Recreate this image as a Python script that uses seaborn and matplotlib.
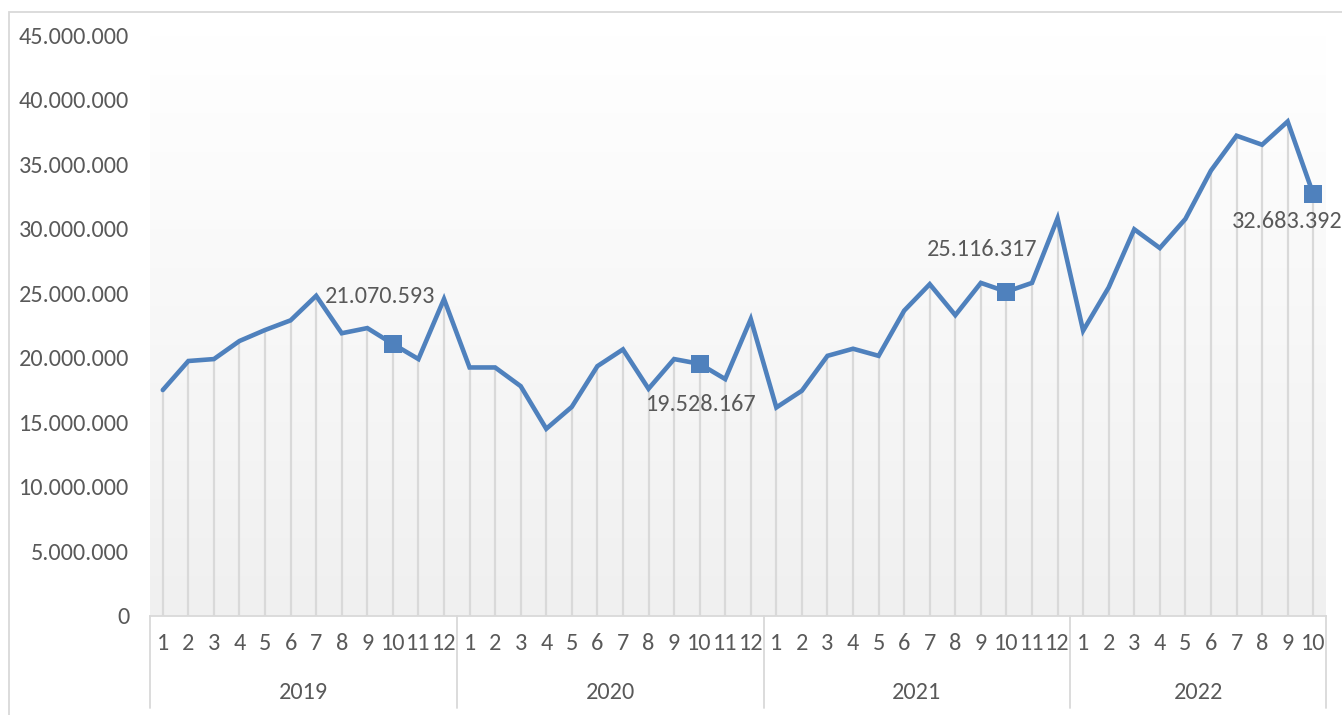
import numpy as np
import pandas as pd
import matplotlib
matplotlib.use("Agg")
import matplotlib.pyplot as plt
import matplotlib.transforms as mtransforms
from matplotlib.patches import Rectangle
from matplotlib.ticker import FuncFormatter, MultipleLocator
from matplotlib.colors import LinearSegmentedColormap
from matplotlib import font_manager
import seaborn as sns

# ---- data ----
years = ["2019", "2020", "2021", "2022"]
months_per_year = [12, 12, 12, 10]
values_2019 = [17.5, 19.75, 19.9, 21.3, 22.15, 22.9, 24.8, 21.9, 22.3, 21.070593, 19.9, 24.55]
values_2020 = [19.25, 19.25, 17.8, 14.5, 16.2, 19.35, 20.65, 17.6, 19.9, 19.528167, 18.35, 23.0]
values_2021 = [16.15, 17.45, 20.15, 20.7, 20.15, 23.65, 25.7, 23.3, 25.8, 25.116317, 25.8, 30.8]
values_2022 = [22.1, 25.45, 29.95, 28.5, 30.75, 34.5, 37.2, 36.5, 38.3, 32.683392]
labeled_month = 10
label_texts = ["21.070.593", "19.528.167", "25.116.317", "32.683.392"]

series = [values_2019, values_2020, values_2021, values_2022]
rows = []
for y, vals in zip(years, series):
    for m, v in enumerate(vals, start=1):
        rows.append({"year": y, "month": m, "value": v * 1e6})
df = pd.DataFrame(rows)
df["idx"] = np.arange(len(df))

# ---- style ----
sns.set_theme(style="white")
avail = {f.name for f in font_manager.fontManager.ttflist}
fam = [f for f in ["Carlito", "Lato", "Open Sans", "DejaVu Sans"] if f in avail]
plt.rcParams["font.family"] = fam
TXT = "#595959"
BLUE = "#4f81bd"
GRID = "#d9d9d9"
FS = 17.5

fig = plt.figure(figsize=(13.42, 7.15), dpi=100)
W, H = 1342, 715
ax = fig.add_axes([150 / W, (H - 616) / H, (1326 - 150) / W, (616 - 35) / H])

n = len(df)
ax.set_xlim(-0.5, n - 0.5)
ax.set_ylim(0, 45e6)

# gradient background
grad = np.linspace(0.0, 1.0, 256).reshape(-1, 1)
cmap = LinearSegmentedColormap.from_list("bg", ["#f0f0f0", "#ffffff"])
ax.imshow(grad, aspect="auto", cmap=cmap, extent=(-0.5, n - 0.5, 0, 45e6),
          origin="lower", zorder=0)

# drop lines
ax.vlines(df["idx"], 0, df["value"], color=GRID, lw=1.6, zorder=1)

# main line
sns.lineplot(data=df, x="idx", y="value", ax=ax, color=BLUE, lw=3.3, zorder=3,
             solid_joinstyle="miter")

# markers and labels
lab = df[df["month"] == labeled_month].reset_index(drop=True)
ax.scatter(lab["idx"], lab["value"], marker="s", s=160, color=BLUE, zorder=4, linewidths=0)
offsets_px = [(-13, 47), (2, -41), (-24, 42), (-26, -27)]
for (i, r), t, (dx, dy) in zip(lab.iterrows(), label_texts, offsets_px):
    ax.annotate(t, (r["idx"], r["value"]), xytext=(dx * 0.72, dy * 0.72),
                textcoords="offset points", ha="center", va="center",
                fontsize=FS, color=TXT, zorder=5)

# axes styling
for s in ["top", "right", "left"]:
    ax.spines[s].set_visible(False)
ax.spines["bottom"].set_color(GRID)
ax.spines["bottom"].set_linewidth(1.3)
ax.yaxis.set_major_locator(MultipleLocator(5e6))
ax.yaxis.set_major_formatter(FuncFormatter(lambda v, p: f"{int(v):,}".replace(",", ".")))
ax.tick_params(axis="y", length=0, pad=15, labelsize=FS, labelcolor=TXT)
ax.set_xticks(df["idx"])
ax.set_xticklabels([str(m) for m in df["month"]])
ax.tick_params(axis="x", length=0, pad=12, labelsize=FS, labelcolor=TXT)
ax.set_xlabel("")
ax.set_ylabel("")

# year group labels and dividers
trans = mtransforms.blended_transform_factory(ax.transData, ax.transAxes)
start = 0
bounds = [-0.5]
for y, k in zip(years, months_per_year):
    center = start + (k - 1) / 2
    ax.text(center, -0.131, y, transform=trans, ha="center", va="center",
            fontsize=FS, color=TXT)
    start += k
    bounds.append(start - 0.5)
for b in bounds:
    ax.plot([b, b], [0, -0.158], transform=trans, color=GRID, lw=1.3, clip_on=False)

# chart border
fig.patches.append(Rectangle((9 / W, -0.1), 2, 1.1 - 12 / H, transform=fig.transFigure,
                             fill=False, edgecolor=GRID, lw=1.3))

fig.savefig("out.png", dpi=100)
